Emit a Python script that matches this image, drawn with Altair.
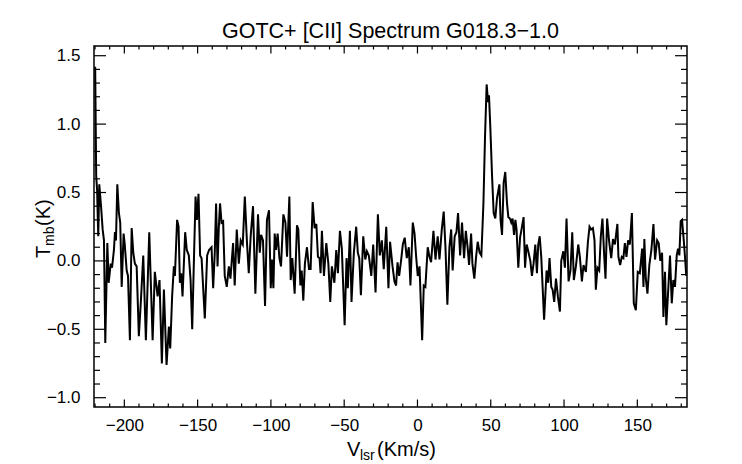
import altair as alt
import pandas as pd

# ---- spectrum ----
velocity = [
    -219.9, -219.2, -218.6, -217.8, -217.1, -215.9, -214.8, -213.9, -213.0, -211.6,
    -210.7, -209.3, -208.4, -207.1, -206.4, -205.7, -204.8, -203.7, -202.8, -201.8,
    -200.5, -199.8, -198.4, -197.5, -196.2, -195.0, -193.9, -192.8, -191.6, -190.1,
    -188.7, -187.1, -185.3, -183.0, -180.7, -179.2, -177.3, -176.0, -174.4, -173.0,
    -171.2, -169.6, -168.7, -167.4, -166.2, -165.5, -164.0, -163.0, -162.1, -161.2,
    -160.3, -158.5, -157.4, -156.0, -154.8, -153.7, -152.4, -151.4, -150.5, -149.4,
    -148.3, -147.3, -145.1, -143.5, -142.2, -140.5, -139.4, -138.3, -137.4, -136.4,
    -135.6, -134.7, -133.7, -132.6, -131.5, -130.1, -128.7, -127.6, -125.8, -124.7,
    -123.3, -121.9, -120.6, -119.2, -117.8, -116.3, -115.1, -113.8, -112.2, -110.6,
    -108.8, -107.6, -106.7, -105.4, -104.0, -102.7, -101.3, -100.1, -99.3, -98.3,
    -97.4, -96.5, -95.4, -94.2, -93.1, -91.5, -90.1, -89.0, -87.4, -86.5,
    -85.4, -83.8, -82.2, -81.3, -79.9, -79.0, -77.9, -76.8, -75.4, -74.0,
    -72.9, -71.5, -70.2, -69.0, -67.9, -66.8, -66.1, -65.2, -63.8, -62.2,
    -60.8, -59.5, -58.4, -56.7, -55.4, -54.3, -52.9, -51.6, -49.7, -48.4,
    -47.5, -46.1, -45.0, -43.4, -41.8, -40.7, -39.7, -38.6, -37.0, -35.6,
    -34.5, -33.2, -31.5, -30.2, -28.6, -27.0, -25.7, -24.3, -23.0, -21.3,
    -19.8, -18.7, -17.0, -15.7, -14.6, -13.6, -12.5, -11.1, -10.0, -8.7,
    -7.3, -5.9, -4.8, -3.2, -2.0, -0.9, 0.2, 1.4, 3.2, 4.3,
    5.4, 7.0, 8.2, 9.3, 10.9, 12.3, 13.8, 15.0, 16.6, 17.9,
    19.1, 20.4, 21.8, 23.0, 24.0, 25.4, 26.6, 27.7, 29.1, 30.4,
    31.8, 33.0, 34.3, 35.2, 36.6, 37.5, 38.8, 40.0, 41.1, 42.4,
    43.6, 45.0, 46.1, 47.2, 48.2, 48.8, 49.7, 50.9, 52.0, 53.1,
    54.3, 55.9, 56.7, 57.7, 58.8, 59.9, 61.1, 62.0, 63.1, 64.0,
    64.9, 65.9, 66.8, 67.6, 68.8, 70.0, 71.0, 72.4, 73.4, 74.5,
    75.6, 77.0, 78.1, 79.2, 80.4, 81.5, 82.4, 83.4, 84.5, 86.4,
    88.1, 89.2, 90.1, 91.3, 92.2, 93.3, 94.5, 95.8, 97.2, 98.1,
    99.5, 100.6, 101.7, 103.1, 104.4, 105.6, 106.7, 108.1, 109.7, 110.8,
    112.2, 113.3, 114.9, 116.3, 117.4, 118.5, 119.7, 120.8, 121.7, 122.8,
    124.0, 125.1, 126.2, 127.4, 128.3, 129.4, 130.8, 132.2, 133.4, 134.7,
    136.4, 137.1, 138.3, 139.4, 140.5, 141.5, 142.6, 143.7, 144.9, 146.3,
    147.6, 149.0, 150.3, 151.7, 153.3, 154.2, 154.8, 155.8, 156.9, 158.2,
    159.6, 161.0, 162.1, 163.5, 164.6, 165.7, 166.9, 167.8, 168.9, 169.8,
    171.2, 172.3, 173.5, 174.6, 175.7, 176.9, 177.8, 178.7, 179.6, 180.5,
    181.7, 182.6, 183.4,
]
tmb = [
    1.42, 0.62, 0.52, 0.18, 0.56, 0.40, 0.23, 0.15, -0.60, 0.13,
    -0.16, -0.02, -0.05, 0.08, 0.21, 0.15, 0.56, 0.35, 0.28, -0.19,
    0.20, 0.13, -0.07, -0.11, -0.58, 0.24, 0.06, -0.02, -0.04, -0.55,
    -0.29, 0.04, -0.58, 0.21, -0.58, -0.08, -0.26, -0.14, -0.75, -0.21,
    -0.76, -0.48, -0.64, -0.26, -0.04, -0.11, 0.30, 0.25, -0.16, -0.09,
    -0.26, 0.21, 0.08, 0.04, -0.14, -0.50, 0.06, 0.47, 0.30, 0.49,
    0.04, 0.02, -0.42, 0.04, 0.08, 0.10, -0.20, 0.06, 0.42, -0.04,
    0.23, 0.42, 0.28, 0.29, -0.11, -0.19, -0.04, -0.13, 0.13, -0.18,
    0.23, -0.02, 0.15, 0.12, 0.47, 0.13, -0.09, 0.18, 0.40, -0.24,
    0.34, 0.06, 0.19, 0.15, -0.33, 0.30, 0.37, -0.20, 0.01, -0.20,
    0.20, 0.08, 0.20, 0.02, -0.04, 0.34, 0.28, 0.03, 0.47, -0.14,
    0.02, -0.24, 0.26, 0.23, -0.18, -0.07, -0.29, -0.02, 0.10, -0.06,
    -0.06, 0.43, 0.24, 0.27, 0.03, 0.02, -0.09, 0.22, -0.11, 0.13,
    -0.02, -0.30, -0.04, -0.16, 0.08, -0.09, 0.22, 0.09, -0.47, 0.02,
    -0.20, 0.22, -0.30, 0.06, 0.25, 0.06, 0.02, -0.25, 0.18, 0.01,
    0.07, 0.04, -0.11, 0.12, -0.23, 0.34, 0.04, 0.15, -0.06, 0.25,
    -0.20, 0.14, -0.04, -0.15, -0.18, -0.01, -0.11, 0.01, 0.12, 0.17,
    0.02, 0.10, -0.18, 0.28, 0.20, 0.03, -0.11, -0.04, -0.58, -0.18,
    -0.19, 0.10, 0.03, -0.01, 0.22, 0.01, 0.18, 0.01, 0.23, 0.36,
    0.10, -0.32, 0.10, 0.23, -0.07, 0.18, 0.21, 0.35, 0.04, 0.28,
    0.02, 0.22, 0.09, -0.03, 0.20, -0.02, -0.13, 0.03, 0.14, 0.06,
    0.04, 0.42, 0.91, 1.29, 1.16, 1.21, 0.98, 0.62, 0.35, 0.31,
    0.46, 0.56, 0.30, 0.19, 0.57, 0.65, 0.42, 0.32, 0.31, 0.28,
    0.31, 0.19, 0.30, 0.23, -0.05, 0.17, 0.23, 0.32, -0.05, 0.12,
    0.07, 0.00, -0.11, -0.02, 0.12, -0.09, 0.12, 0.18, 0.02, -0.43,
    -0.07, -0.16, 0.02, -0.19, -0.21, -0.30, -0.13, -0.26, -0.37, 0.00,
    0.07, -0.05, 0.31, -0.15, -0.07, 0.21, -0.14, -0.04, 0.12, 0.03,
    -0.15, -0.03, -0.08, 0.14, 0.25, 0.23, 0.24, 0.15, -0.21, -0.05,
    -0.07, 0.18, 0.31, 0.04, -0.13, 0.31, 0.14, 0.02, 0.16, 0.12,
    0.27, 0.03, -0.03, 0.03, 0.02, 0.13, 0.03, 0.15, 0.12, 0.35,
    -0.31, -0.36, -0.08, -0.09, 0.09, -0.19, 0.16, -0.13, -0.24, -0.03,
    0.08, 0.27, 0.01, 0.15, 0.13, 0.00, 0.06, -0.41, -0.08, -0.47,
    -0.19, 0.04, -0.31, -0.14, -0.19, 0.04, 0.09, 0.04, 0.29, 0.30,
    0.15, 0.02, -0.11,
]
assert len(velocity) == len(tmb)

# ---- axis ticks ----
x_major = [-200, -150, -100, -50, 0, 50, 100, 150]
x_minor = [-220, -210, -190, -180, -170, -160, -140, -130, -120, -110,
           -90, -80, -70, -60, -40, -30, -20, -10, 10, 20, 30, 40,
           60, 70, 80, 90, 110, 120, 130, 140, 160, 170, 180]
y_major = [-1.0, -0.5, 0.0, 0.5, 1.0, 1.5]
y_minor = [-0.9, -0.8, -0.7, -0.6, -0.4, -0.3, -0.2, -0.1,
           0.1, 0.2, 0.3, 0.4, 0.6, 0.7, 0.8, 0.9,
           1.1, 1.2, 1.3, 1.4]

X_DOMAIN = [-220.7, 183.9]
Y_DOMAIN = [-1.068, 1.571]
W, H = 593, 361
FONT = "Liberation Sans"
INK = "#000000"

xs = alt.Scale(domain=X_DOMAIN, nice=False, zero=False)
ys = alt.Scale(domain=Y_DOMAIN, nice=False, zero=False)

x_axis = alt.Axis(values=x_major, format="d", title=None, ticks=False, tickSize=0,
                  domain=False, grid=False, labelFont=FONT, labelFontSize=17,
                  labelColor=INK, labelPadding=10, labelFlush=False)
y_axis = alt.Axis(values=y_major, format=".1f", title=None, ticks=False, tickSize=0,
                  domain=False, grid=False, labelFont=FONT, labelFontSize=17,
                  labelColor=INK, labelPadding=14, labelFlush=False)

spec = pd.DataFrame({"v": velocity, "T": tmb})

line = alt.Chart(spec).mark_line(color=INK, strokeWidth=2, clip=True).encode(
    x=alt.X("v:Q", scale=xs, axis=x_axis),
    y=alt.Y("T:Q", scale=ys, axis=y_axis),
)


def xticks(vals, length, top):
    df = pd.DataFrame({"v": vals})
    if top:
        yy, yy2 = alt.value(0), alt.value(length)
    else:
        yy, yy2 = alt.value(H), alt.value(H - length)
    return alt.Chart(df).mark_rule(color=INK, strokeWidth=1.2).encode(
        x=alt.X("v:Q", scale=xs, axis=x_axis), y=yy, y2=yy2)


def yticks(vals, length, right):
    df = pd.DataFrame({"T": vals})
    if right:
        xx, xx2 = alt.value(W), alt.value(W - length)
    else:
        xx, xx2 = alt.value(0), alt.value(length)
    return alt.Chart(df).mark_rule(color=INK, strokeWidth=1.2).encode(
        y=alt.Y("T:Q", scale=ys, axis=y_axis), x=xx, x2=xx2)


def label(txt, x, y, size, angle=0, align="left"):
    return alt.Chart(pd.DataFrame({"t": [txt]})).mark_text(
        text=txt, font=FONT, fontSize=size, align=align, baseline="alphabetic",
        angle=angle, color=INK).encode(x=alt.value(x), y=alt.value(y))


layers = [
    line,
    xticks(x_major, 7.5, False), xticks(x_major, 7.5, True),
    xticks(x_minor, 3.5, False), xticks(x_minor, 3.5, True),
    yticks(y_major, 12, False), yticks(y_major, 12, True),
    yticks(y_minor, 6, False), yticks(y_minor, 6, True),
    label("GOTC+ [CII] Spectrum G018.3\u22121.0", W / 2, -8, 21.5, align="center"),
    label("V", 253, 410, 20),
    label("lsr", 266, 414, 14),
    label("(Km/s)", 283, 410, 20),
    label("T", -44, 212, 20, angle=270),
    label("mb", -40, 200, 14, angle=270),
    label("(K)", -44, 180, 20, angle=270),
]

chart = alt.layer(*layers).properties(
    width=W, height=H,
    padding={"left": 86, "top": 38, "right": 40, "bottom": 56},
    autosize=alt.AutoSizeParams(type="none"),
    background="white",
).configure_view(stroke=INK, strokeWidth=1.5)

chart.save("out.html", embed_options={"renderer": "svg", "actions": False})
